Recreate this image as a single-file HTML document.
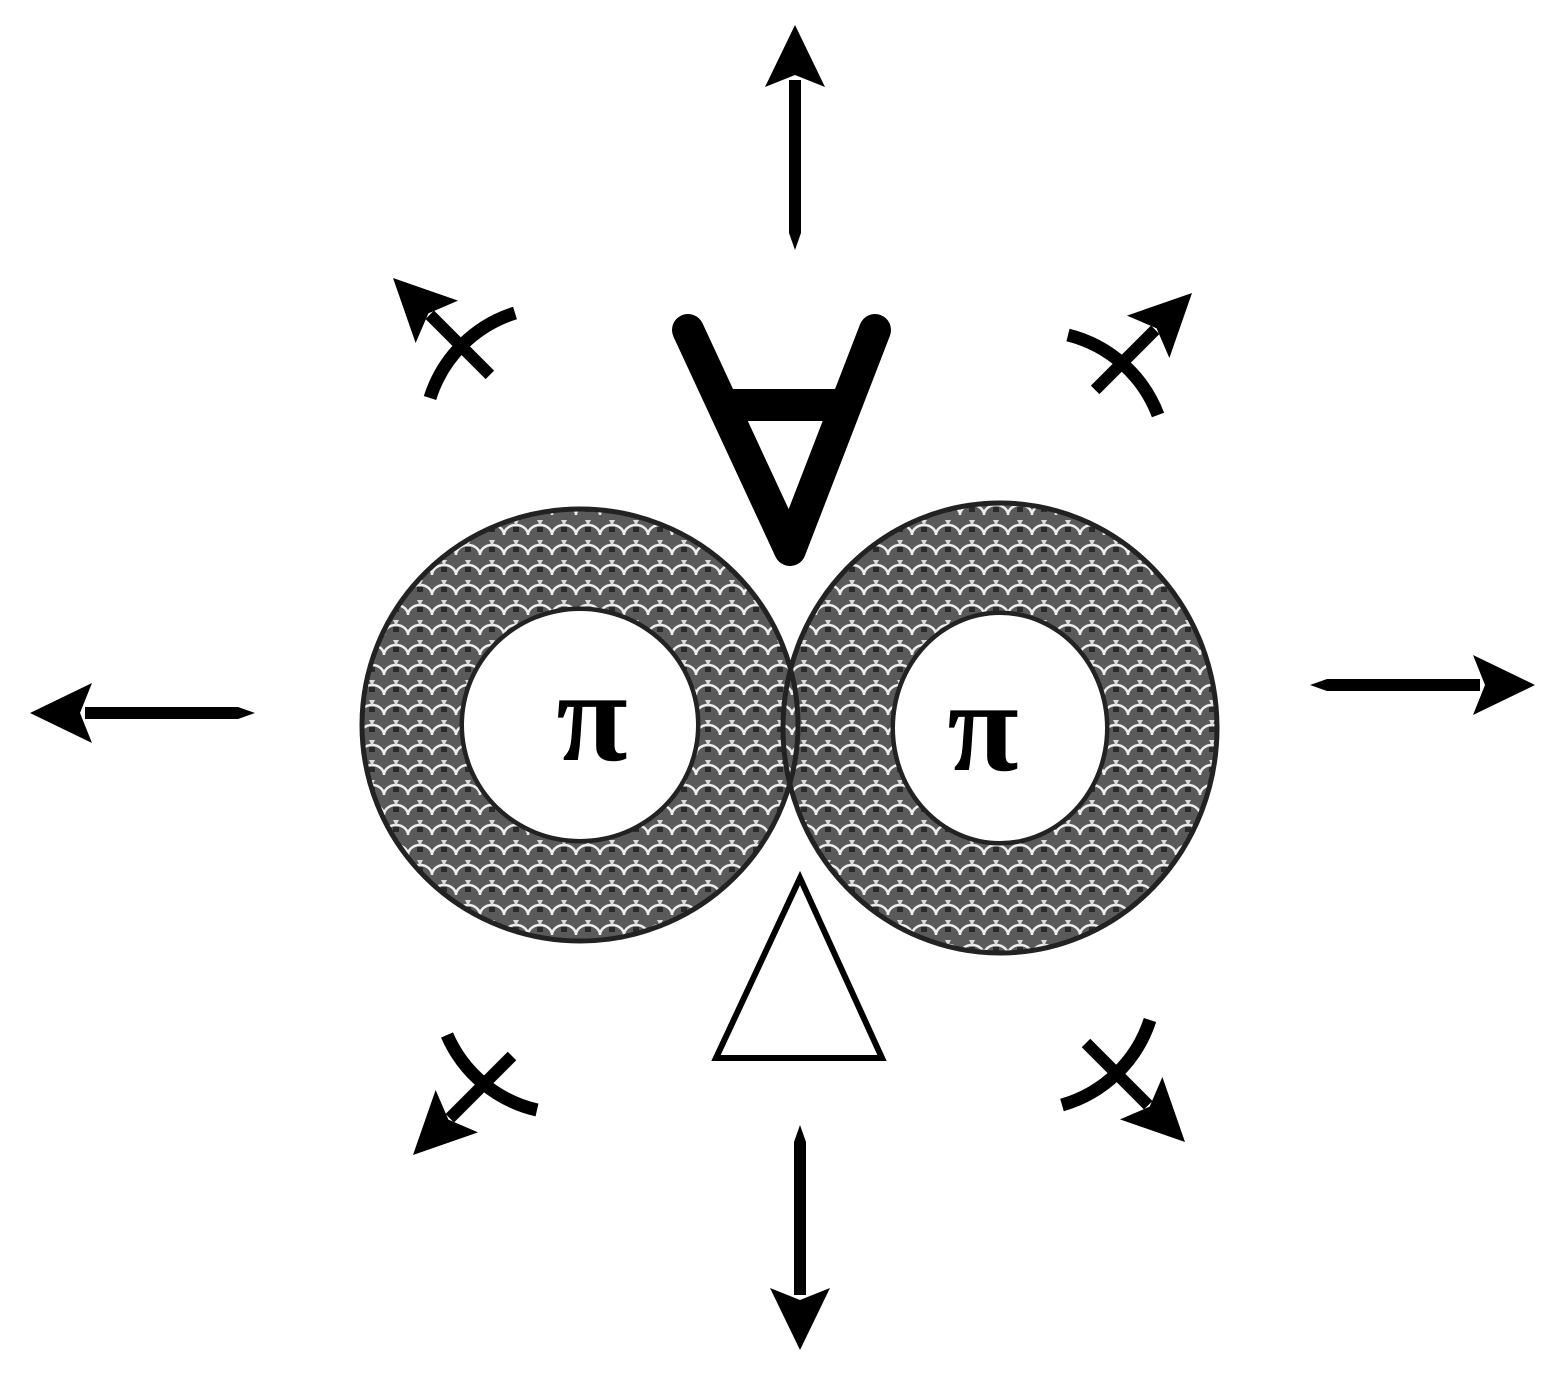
<!DOCTYPE html>
<html><head><meta charset="utf-8"><style>html,body{margin:0;padding:0;background:#fff}svg{display:block}</style></head>
<body>
<svg width="1565" height="1385" viewBox="0 0 1565 1385" xmlns="http://www.w3.org/2000/svg">
<defs>
<pattern id="sc" width="24" height="20" patternUnits="userSpaceOnUse">
<rect width="24" height="20" fill="#5a5a5a"/>
<path d="M0,15 A12,10 0 0 1 24,15" fill="none" stroke="#eee" stroke-width="2.5"/>
<path d="M-12,5 A12,10 0 0 1 12,5 M12,5 A12,10 0 0 1 36,5" fill="none" stroke="#ddd" stroke-width="2.5"/>
<rect x="9" y="7" width="6" height="5" fill="#2a2a2a"/>
</pattern>
<g id="arr"><polygon points="0,0 -62,-30 -50,0 -62,30" fill="#000"/></g>
</defs>
<g>
<ellipse cx="580" cy="725" rx="168" ry="166" fill="none" stroke="url(#sc)" stroke-width="100"/>
<ellipse cx="1000" cy="728" rx="162" ry="170" fill="none" stroke="url(#sc)" stroke-width="110"/>
<ellipse cx="580" cy="725" rx="218" ry="216" fill="none" stroke="#222" stroke-width="5"/>
<ellipse cx="580" cy="725" rx="118" ry="116" fill="none" stroke="#222" stroke-width="5"/>
<ellipse cx="1000" cy="728" rx="217" ry="225" fill="none" stroke="#222" stroke-width="5"/>
<ellipse cx="1000" cy="728" rx="107" ry="115" fill="none" stroke="#222" stroke-width="5"/>
<ellipse cx="580" cy="725" rx="116" ry="114" fill="#fff"/>
<ellipse cx="1000" cy="728" rx="105" ry="113" fill="#fff"/>
</g>
<text x="592" y="760" font-family="Liberation Serif, serif" font-size="130" font-weight="bold" text-anchor="middle">π</text>
<text x="983" y="770" font-family="Liberation Serif, serif" font-size="130" font-weight="bold" text-anchor="middle">π</text>
<g stroke="#000" stroke-width="32" stroke-linecap="round" stroke-linejoin="round" fill="none">
<path d="M688,330 L790,550 L875,330"/>
<path d="M730,405 L850,405" stroke-linecap="butt"/>
</g>
<polygon points="800,878 716,1058 882,1058" fill="none" stroke="#000" stroke-width="6"/>
<g fill="#000">
<g transform="translate(795,25) rotate(-90)"><use href="#arr"/><polygon points="-225,0 -208,-6 -55,-6 -55,6 -208,6"/></g>
<g transform="translate(800,1350) rotate(90)"><use href="#arr"/><polygon points="-225,0 -208,-6 -55,-6 -55,6 -208,6"/></g>
<g transform="translate(30,713) rotate(180)"><use href="#arr"/><polygon points="-225,0 -208,-6 -55,-6 -55,6 -208,6"/></g>
<g transform="translate(1535,685)"><use href="#arr"/><polygon points="-225,0 -208,-6 -55,-6 -55,6 -208,6"/></g>
<g transform="translate(393,278) rotate(225)"><use href="#arr"/><rect x="-137" y="-6" width="85" height="12"/></g>
<g transform="translate(1192,293) rotate(-45)"><use href="#arr"/><rect x="-137" y="-6" width="85" height="12"/></g>
<g transform="translate(413,1155) rotate(135)"><use href="#arr"/><rect x="-140" y="-6" width="88" height="12"/></g>
<g transform="translate(1185,1142) rotate(45)"><use href="#arr"/><rect x="-140" y="-6" width="88" height="12"/></g>
</g>
<g fill="none" stroke="#000" stroke-width="13">
<path d="M430,398 A130,130 0 0 1 515,313"/>
<path d="M1068,335 A130,130 0 0 1 1158,415"/>
<path d="M447,1035 A130,130 0 0 0 537,1110"/>
<path d="M1150,1020 A130,130 0 0 1 1062,1105"/>
</g>
</svg>
</body></html>
